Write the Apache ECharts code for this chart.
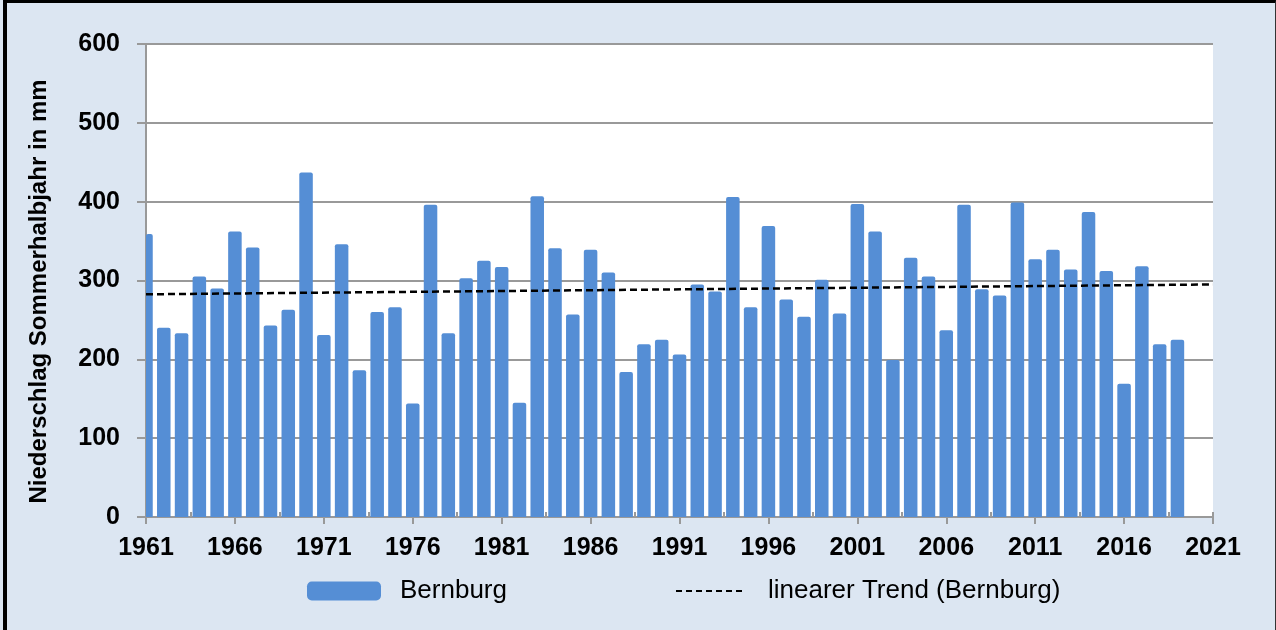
<!DOCTYPE html>
<html>
<head>
<meta charset="utf-8">
<script src="https://cdn.jsdelivr.net/npm/echarts@6/dist/echarts.min.js"></script>
<style>
  html, body { margin: 0; padding: 0; background: #dce6f2; }
  #wrap { position: relative; width: 1276px; height: 630px; overflow: hidden; }
  #chart { width: 1276px; height: 630px; }
  .frame {
    position: absolute; left: 3px; top: 0; right: 0; bottom: -10px;
    border-top: 3px solid #000; border-left: 4px solid #000; border-right: 1px solid #333;
    pointer-events: none;
  }
</style>
</head>
<body>
<div id="wrap">
  <div id="chart"></div>
  <div class="frame"></div>
</div>
<script>
// Niederschlag im Sommerhalbjahr, Station Bernburg
const firstYear = 1961;
const lastAxisYear = 2021;
const precipitation = [
  359, 240, 233, 305, 290, 362, 342, 243, 263, 437,
  231, 346, 186, 260, 266, 144, 396, 233, 303, 325,
  317, 145, 407, 341, 257, 339, 310, 184, 219, 225,
  206, 295, 286, 406, 266, 369, 276, 254, 301, 258,
  397, 362, 199, 329, 305, 237, 396, 289, 281, 399,
  327, 339, 314, 387, 312, 169, 318, 219, 225
];
const trendYears = [1961, 2021];
const trendValues = [282.5, 295];

const barData = precipitation.map((v, i) => [i, v]);
const trendData = trendYears.map((y, i) => [y - firstYear, trendValues[i]]);

const gray = '#999999';
const barColor = '#558ed5';
const font = 'Liberation Sans, Arial, sans-serif';

// Balken als custom series, damit der halbe Balken 1961 an der Achse abgeschnitten wird
function renderBar(params, api) {
  const x = api.value(0);
  const top = api.coord([x, api.value(1)]);
  const base = api.coord([x, 0]);
  const w = api.size([1, 0])[0] * 0.76;
  const shape = echarts.graphic.clipRectByRect(
    { x: top[0] - w / 2, y: top[1], width: w, height: base[1] - top[1] },
    params.coordSys
  );
  if (!shape) return;
  shape.r = [2, 2, 0, 0];
  return { type: 'rect', shape: shape, style: { fill: barColor } };
}

const chart = echarts.init(document.getElementById('chart'));
chart.setOption({
  animation: false,
  backgroundColor: '#dce6f2',
  grid: {
    left: 146, right: 63, top: 44, bottom: 113,
    show: true, backgroundColor: '#ffffff', borderWidth: 0
  },
  legend: [
    {
      data: [{ name: 'Bernburg', icon: 'roundRect' }],
      left: 307, top: 578, padding: 0,
      itemWidth: 74, itemHeight: 19,
      textStyle: { fontFamily: font, fontSize: 26, color: '#000', padding: [0, 0, 0, 14] }
    },
    {
      data: ['linearer Trend (Bernburg)'],
      left: 675, top: 578, padding: 0,
      itemWidth: 70, itemHeight: 19,
      itemStyle: { opacity: 0 },
      lineStyle: { color: '#000', width: 2, type: [6, 4] },
      textStyle: { fontFamily: font, fontSize: 26, color: '#000', padding: [0, 0, 0, 17] }
    }
  ],
  xAxis: [
    {
      type: 'value', min: 0, max: lastAxisYear - firstYear, interval: 5,
      axisLine: { show: true, lineStyle: { color: gray, width: 2 } },
      axisTick: { show: true, length: 7, lineStyle: { color: gray, width: 2 } },
      splitLine: { show: false },
      axisLabel: {
        margin: 19,
        formatter: v => String(firstYear + v),
        fontFamily: font, fontSize: 25, fontWeight: 'bold', color: '#000'
      }
    },
    {
      // kleine Zwischenstriche nach innen
      type: 'value', min: 0, max: lastAxisYear - firstYear, interval: 2.5,
      position: 'bottom',
      axisLine: { show: false },
      axisTick: { show: true, inside: true, length: 5, lineStyle: { color: gray, width: 2 } },
      splitLine: { show: false },
      axisLabel: { show: false }
    }
  ],
  yAxis: {
    type: 'value', min: 0, max: 600, interval: 100,
    name: 'Niederschlag Sommerhalbjahr in mm',
    nameLocation: 'middle', nameGap: 95,
    nameTextStyle: {
      fontFamily: font, fontSize: 24, fontWeight: 'bold', color: '#000',
      padding: [0, 22, 0, 0]
    },
    axisLine: { show: true, lineStyle: { color: gray, width: 2 } },
    axisTick: { show: true, length: 9, lineStyle: { color: gray, width: 2 } },
    splitLine: { show: true, lineStyle: { color: gray, width: 2 } },
    axisLabel: { margin: 26, fontFamily: font, fontSize: 25, fontWeight: 'bold', color: '#000' }
  },
  series: [
    {
      name: 'Bernburg',
      type: 'custom',
      renderItem: renderBar,
      encode: { x: 0, y: 1 },
      data: barData,
      itemStyle: { color: barColor }
    },
    {
      name: 'linearer Trend (Bernburg)',
      type: 'line',
      data: trendData,
      symbol: 'none',
      z: 5,
      itemStyle: { color: '#000' },
      lineStyle: { color: '#000', width: 2.5, type: [7, 4] }
    }
  ]
});
</script>
</body>
</html>
